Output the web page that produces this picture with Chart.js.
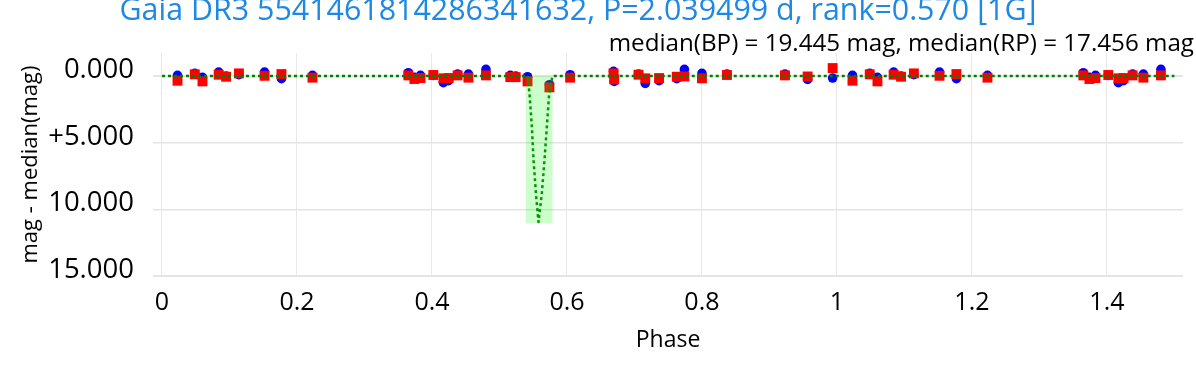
<!DOCTYPE html>
<html>
<head>
<meta charset="utf-8">
<script src="https://cdn.jsdelivr.net/npm/chart.js@4.4.0/dist/chart.umd.min.js"></script>
<style>
  html, body { margin: 0; padding: 0; background: #fff; }
</style>
</head>
<body>
<canvas id="myChart" width="1196" height="368"></canvas>
<script>
const titleText = 'Gaia DR3 5541461814286341632, P=2.039499 d, rank=0.570 [1G]';
const subtitleText = 'median(BP) = 19.445 mag, median(RP) = 17.456 mag';

// BP (blue circles), phase-folded, 0..1.5
const bpPhase = [0.023, 0.0486, 0.060, 0.084, 0.095, 0.114, 0.152, 0.177, 0.223,
  0.365, 0.374, 0.383, 0.402, 0.417, 0.4246, 0.438, 0.454, 0.480, 0.516, 0.524,
  0.5416, 0.574, 0.6047, 0.669, 0.670, 0.706, 0.716, 0.7365, 0.7627, 0.774, 0.800,
  0.837, 0.923, 0.9566, 0.9936,
  1.023, 1.0486, 1.060, 1.084, 1.095, 1.114, 1.152, 1.177, 1.223,
  1.365, 1.374, 1.383, 1.402, 1.417, 1.4246, 1.438, 1.454, 1.480];
const bpMag = [-0.05, -0.2, 0.1, -0.3, 0.0, -0.1, -0.3, 0.2, -0.05,
  -0.25, 0.1, -0.05, -0.05, 0.5, 0.35, -0.15, -0.15, -0.5, -0.05, 0.0,
  0.05, 0.65, -0.1, -0.35, 0.4, -0.15, 0.55, 0.35, 0.2, -0.5, -0.2,
  -0.15, -0.15, 0.25, 0.15,
  -0.05, -0.2, 0.1, -0.3, 0.0, -0.1, -0.3, 0.2, -0.05,
  -0.25, 0.1, -0.05, -0.05, 0.5, 0.35, -0.15, -0.15, -0.5];

// RP (red squares)
const rpPhase = bpPhase;
const rpMag = [0.35, -0.13, 0.4, -0.1, 0.05, -0.2, -0.02, -0.15, 0.12,
  -0.05, 0.22, 0.15, -0.08, 0.17, 0.15, -0.05, 0.12, -0.05, 0.08, 0.08,
  0.4, 0.85, 0.12, -0.2, 0.25, -0.1, 0.17, 0.15, 0.05, 0.03, 0.17,
  -0.08, -0.05, 0.03, -0.6,
  0.35, -0.13, 0.4, -0.1, 0.05, -0.2, -0.02, -0.15, 0.12,
  -0.05, 0.22, 0.15, -0.08, 0.17, 0.15, -0.05, 0.12, -0.05];

// model curve (green dotted)
const modelPhase = [0, 0.5416, 0.5445, 0.548, 0.5505, 0.554, 0.5578, 0.5628, 0.5667, 0.5702, 0.5737, 0.5785, 1.5];
const modelMag = [0, 0, 1.3, 3.8, 6.3, 8.8, 10.95, 8.8, 6.3, 3.8, 1.3, 0, 0];

// eclipse window [phase0, phase1], [mag0, mag1]
const boxPhase = [0.539, 0.5785];
const boxMag = [0, 11.03];

const xTicks = [0, 0.2, 0.4, 0.6, 0.8, 1, 1.2, 1.4];
const xTickLabels = ['0', '0.2', '0.4', '0.6', '0.8', '1', '1.2', '1.4'];
const yTicks = [0, 5, 10, 15];
const yTickLabels = ['0.000', '+5.000', '10.000', '15.000'];

const font = 'Open Sans';

function pts(xs, ys) {
    return xs.map((v, i) => ({ x: v, y: ys[i] }));
}

const boxPlugin = {
    id: 'eclipseBox',
    afterDatasetsDraw(chart) {
        const ctx = chart.ctx;
        const sx = chart.scales.x, sy = chart.scales.y;
        const x0 = sx.getPixelForValue(boxPhase[0]);
        const x1 = sx.getPixelForValue(boxPhase[1]);
        const y0 = sy.getPixelForValue(boxMag[0]);
        const y1 = sy.getPixelForValue(boxMag[1]);
        ctx.save();
        ctx.fillStyle = 'rgba(0, 255, 0, 0.2)';
        ctx.fillRect(x0, y0, x1 - x0, y1 - y0);
        ctx.restore();
    }
};

const titlePlugin = {
    id: 'titles',
    afterDraw(chart) {
        const ctx = chart.ctx;
        ctx.save();
        ctx.textBaseline = 'alphabetic';
        ctx.fillStyle = '#1e88e5';
        ctx.font = `30.4px "${font}"`;
        ctx.textAlign = 'center';
        ctx.fillText(titleText, 578, 20);
        ctx.fillStyle = '#000';
        ctx.font = `24.2px "${font}"`;
        ctx.textAlign = 'right';
        ctx.fillText(subtitleText, 1194, 51);
        ctx.restore();
    }
};

function createChart() {
    let ctx = document.getElementById('myChart').getContext('2d');
    new Chart(ctx, {
        type: 'scatter',
        data: {
            datasets: [{
                label: 'model',
                data: pts(modelPhase, modelMag),
                showLine: true,
                borderColor: '#008000',
                borderWidth: 2.5,
                borderDash: [3, 3],
                borderJoinStyle: 'round',
                pointRadius: 0,
                tension: 0
            }, {
                label: 'RP',
                data: pts(rpPhase, rpMag),
                pointStyle: 'rect',
                pointRadius: 7,
                backgroundColor: '#ff0000',
                borderWidth: 0
            }, {
                label: 'BP',
                data: pts(bpPhase, bpMag),
                pointStyle: 'circle',
                pointRadius: 4.8,
                backgroundColor: '#0000ff',
                borderWidth: 0
            }]
        },
        options: {
            responsive: false,
            animation: false,
            layout: { padding: { top: 53, right: 13, left: 0, bottom: 0 } },
            plugins: { legend: { display: false }, tooltip: { enabled: false } },
            scales: {
                x: {
                    type: 'linear',
                    min: -0.0133,
                    max: 1.5127,
                    grid: { color: '#e8e8e8', lineWidth: 1, drawTicks: false },
                    border: { display: false },
                    afterBuildTicks: s => { s.ticks = xTicks.map(v => ({ value: v })); },
                    afterFit: s => { s.height = 92; },
                    ticks: {
                        autoSkip: false,
                        maxRotation: 0,
                        padding: 12,
                        color: '#000',
                        font: { family: font, size: 25 },
                        callback: (v, i) => xTickLabels[i]
                    },
                    title: {
                        display: true,
                        text: 'Phase',
                        color: '#000',
                        font: { family: font, size: 23 },
                        padding: { top: 0, bottom: 14 }
                    }
                },
                y: {
                    type: 'linear',
                    reverse: true,
                    min: -1.73,
                    max: 15,
                    grid: {
                        color: '#e4e4e4',
                        lineWidth: c => (c.tick && (c.tick.value === 0 || c.tick.value === 15)) ? 2 : 1.5,
                        drawTicks: false
                    },
                    border: { display: false },
                    afterBuildTicks: s => { s.ticks = yTicks.map(v => ({ value: v })); },
                    afterFit: s => { s.width = 153; },
                    ticks: {
                        autoSkip: false,
                        padding: 19,
                        labelOffset: -6,
                        color: '#000',
                        font: { family: font, size: 27.5 },
                        callback: (v, i) => yTickLabels[i]
                    },
                    title: {
                        display: true,
                        text: 'mag - median(mag)',
                        color: '#000',
                        font: { family: font, size: 22 },
                        padding: { top: 18, bottom: 0 }
                    }
                }
            }
        },
        plugins: [boxPlugin, titlePlugin]
    });
}

document.fonts.load(`26px "${font}"`).then(createChart, createChart);
</script>
</body>
</html>
